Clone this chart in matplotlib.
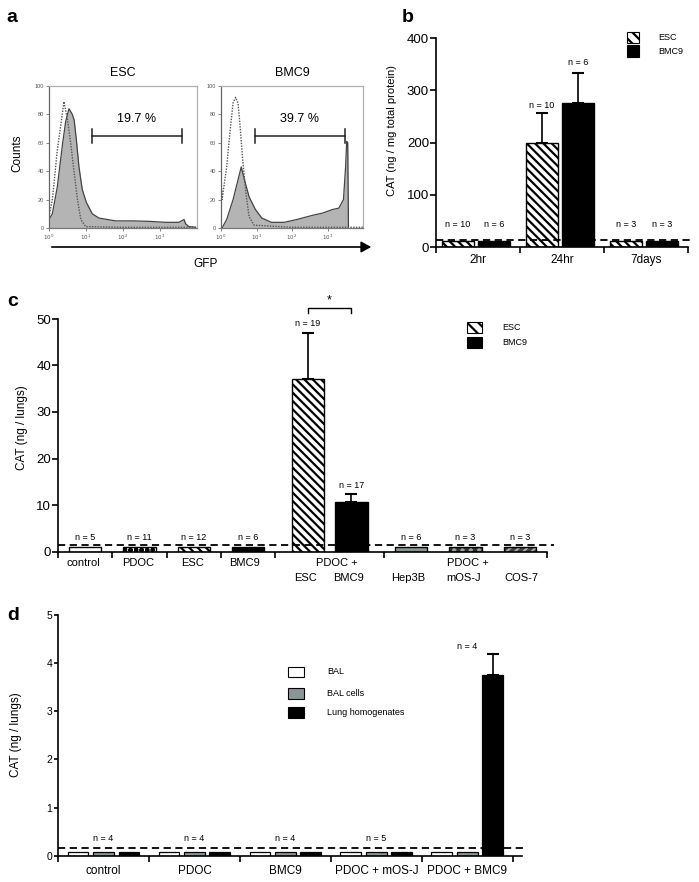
import matplotlib
matplotlib.use('Agg')
import matplotlib.pyplot as plt
from matplotlib.patches import Rectangle
import numpy as np

plt.rcParams['font.family'] = ['Liberation Sans', 'DejaVu Sans']
plt.rcParams['hatch.linewidth'] = 1.6
plt.rcParams['axes.linewidth'] = 1.2

HATCH = '\\\\\\\\'

# ---------------- data ----------------
# panel a : flow histograms (log10 GFP, counts)
esc_ctrl_logx = [0, 0.09, 0.225, 0.315, 0.405, 0.5, 0.585, 0.68, 0.77, 0.86, 0.99, 2.0, 3.0, 4.0]
esc_ctrl_counts = [8, 20, 55, 72, 89, 76, 60, 39, 20, 6, 1, 0.5, 0.5, 0.5]
esc_gfp_logx = [0, 0.09, 0.225, 0.36, 0.45, 0.54, 0.63, 0.68, 0.74, 0.81, 0.9, 1.01, 1.17, 1.35,
                1.8, 2.25, 2.7, 3.15, 3.51, 3.65, 3.69, 3.78, 3.96]
esc_gfp_counts = [6, 10, 29, 58, 75, 84, 80, 76, 62, 43, 27, 18, 10, 7, 5, 5, 4.7, 4, 4, 6, 3, 1, 0.5]
bmc_ctrl_logx = [0, 0.03, 0.16, 0.25, 0.34, 0.41, 0.48, 0.54, 0.61, 0.7, 0.79, 0.93, 2.0, 4.0]
bmc_ctrl_counts = [36, 20, 43, 67, 88, 92, 88, 71, 48, 25, 8, 2, 0.5, 0.5]
bmc_gfp_logx = [0.03, 0.16, 0.34, 0.48, 0.57, 0.66, 0.79, 0.97, 1.15, 1.42, 1.78, 2.14, 2.59,
                2.86, 3.14, 3.32, 3.45, 3.51, 3.54, 3.57, 3.59]
bmc_gfp_counts = [0, 6, 20, 34, 43, 34, 22, 13, 7, 4, 4, 6, 9, 10.5, 13, 14, 20, 43, 61, 60, 0]
esc_gate = [1.16, 3.6]
bmc_gate = [0.95, 3.49]
esc_pct = '19.7 %'
bmc_pct = '39.7 %'

# panel b
b_groups = ['2hr', '24hr', '7days']
b_esc = [12, 199, 12]
b_esc_err = [0, 57, 0]
b_bmc = [12, 275, 12]
b_bmc_err = [0, 58, 0]
b_esc_n = ['n = 10', 'n = 10', 'n = 3']
b_bmc_n = ['n = 6', 'n = 6', 'n = 3']
b_threshold = 13

# panel c
c_cats = ['control', 'PDOC', 'ESC', 'BMC9', 'PDOC + ESC', 'PDOC + BMC9', 'Hep3B', 'PDOC + mOS-J', 'COS-7']
c_vals = [1.0, 1.0, 1.0, 1.0, 37.0, 10.6, 1.0, 1.0, 1.0]
c_err = [0, 0, 0, 0, 10.0, 1.7, 0, 0, 0]
c_n = [5, 11, 12, 6, 19, 17, 6, 3, 3]
c_threshold = 1.4

# panel d
d_groups = ['control', 'PDOC', 'BMC9', 'PDOC + mOS-J', 'PDOC + BMC9']
d_bal = [0.07, 0.07, 0.07, 0.07, 0.07]
d_balcells = [0.07, 0.07, 0.07, 0.07, 0.07]
d_lung = [0.07, 0.07, 0.07, 0.07, 3.76]
d_lung_err = [0, 0, 0, 0, 0.43]
d_n = [4, 4, 4, 5, 4]
d_threshold = 0.15

# ---------------- figure ----------------
W, H = 699, 882
fig = plt.figure(figsize=(W / 100, H / 100), dpi=100)


def rect(x0, y0, x1, y1):
    return [x0 / W, 1 - y1 / H, (x1 - x0) / W, (y1 - y0) / H]


def ft(x, y, s, **kw):
    kw.setdefault('ha', 'center')
    kw.setdefault('va', 'center')
    fig.text(x / W, 1 - y / H, s, **kw)


def fpatch(x0, y0, x1, y1, **kw):
    fig.add_artist(Rectangle((x0 / W, 1 - y1 / H), (x1 - x0) / W, (y1 - y0) / H,
                             transform=fig.transFigure, **kw))


def nlabel(ax, x, top, txt, off_px, fs):
    ax.annotate(txt, xy=(x, top), xytext=(0, off_px), textcoords='offset pixels',
                ha='center', va='center', fontsize=fs, annotation_clip=False)


# ---------- panel a ----------
def hist_panel(box, ctrl_x, ctrl_y, gfp_x, gfp_y, gate, pct, title):
    ax = fig.add_axes(rect(*box))
    gx = 10 ** np.array(gfp_x)
    cx = 10 ** np.array(ctrl_x)
    ax.fill_between(gx, 0, gfp_y, color='#b4b4b4', lw=0)
    ax.plot(gx, gfp_y, color='#444444', lw=0.9)
    ax.plot(cx, ctrl_y, color='#555555', lw=1.0, ls=(0, (1, 1)))
    ax.set_xscale('log')
    ax.set_xlim(1, 10 ** 4)
    ax.set_ylim(0, 100)
    ax.set_xticks([1, 10, 100, 1000])
    ax.set_xticklabels([r'$10^0$', r'$10^1$', r'$10^2$', r'$10^3$'])
    ax.xaxis.set_minor_locator(matplotlib.ticker.NullLocator())
    ax.set_yticks([0, 20, 40, 60, 80, 100])
    ax.tick_params(labelsize=4, length=2, width=0.5, colors='#555555', pad=1.5)
    for s in ax.spines.values():
        s.set_color('#a8b4b4')
        s.set_linewidth(0.9)
    ax.spines['left'].set_color('#666666')
    ax.spines['bottom'].set_color('#777777')
    gy = 65
    ax.plot([10 ** gate[0], 10 ** gate[1]], [gy, gy], color='#222222', lw=1.1)
    for gxv in gate:
        ax.plot([10 ** gxv, 10 ** gxv], [gy - 5, gy + 5], color='#222222', lw=1.1)
    ax.text(10 ** ((gate[0] + gate[1]) / 2), 77, pct, ha='center', va='center', fontsize=9)
    ax.set_title(title, fontsize=9, pad=7)
    return ax


hist_panel((49, 86, 197, 228), esc_ctrl_logx, esc_ctrl_counts, esc_gfp_logx, esc_gfp_counts,
           esc_gate, esc_pct, 'ESC')
hist_panel((221, 86, 363, 228), bmc_ctrl_logx, bmc_ctrl_counts, bmc_gfp_logx, bmc_gfp_counts,
           bmc_gate, bmc_pct, 'BMC9')
ft(17, 153, 'Counts', rotation=90, fontsize=8.5)
ft(206, 264, 'GFP', fontsize=8.5)
fig.add_artist(matplotlib.patches.FancyArrowPatch((49 / W, 1 - 247 / H), (374 / W, 1 - 247 / H),
               transform=fig.transFigure, arrowstyle='-|>,head_length=4,head_width=2.2',
               color='black', lw=1.2, mutation_scale=1.5))

# ---------- panel b ----------
axb = fig.add_axes(rect(436, 38, 688, 247))
xb = np.arange(len(b_groups))
w = 0.38
axb.bar(xb - 0.24, b_esc, w, facecolor='white', edgecolor='black', hatch=HATCH, lw=1.0, zorder=2)
axb.bar(xb + 0.19, b_bmc, w, facecolor='black', edgecolor='black', lw=1.0, zorder=2)
for i in range(len(b_groups)):
    if b_esc_err[i] > 0:
        axb.errorbar(xb[i] - 0.24, b_esc[i], yerr=[[0], [b_esc_err[i]]], fmt='none', ecolor='black',
                     elinewidth=1.2, capsize=4, capthick=1.5, zorder=1)
    if b_bmc_err[i] > 0:
        axb.errorbar(xb[i] + 0.19, b_bmc[i], yerr=[[0], [b_bmc_err[i]]], fmt='none', ecolor='black',
                     elinewidth=1.2, capsize=4, capthick=1.5, zorder=1)
    off_e = 8 if b_esc_err[i] > 0 else 16
    off_b = 11 if b_bmc_err[i] > 0 else 16
    nlabel(axb, xb[i] - 0.24, b_esc[i] + b_esc_err[i], b_esc_n[i], off_e, 6.5)
    nlabel(axb, xb[i] + 0.19, b_bmc[i] + b_bmc_err[i], b_bmc_n[i], off_b, 6.5)
axb.plot([-0.5, 2.55], [b_threshold, b_threshold], color='black', ls=(0, (4, 2.5)), lw=1.3,
         clip_on=False, zorder=3)
axb.set_xlim(-0.5, 2.5)
axb.set_ylim(0, 400)
axb.set_yticks([0, 100, 200, 300, 400])
axb.set_xticks([-0.5, 0.5, 1.5, 2.5])
axb.set_xticklabels([])
axb.tick_params(axis='y', labelsize=9.5, length=4, width=1.2, pad=1)
axb.tick_params(axis='x', length=4, width=1.2)
for i, g in enumerate(b_groups):
    axb.text(xb[i], -0.062, g, transform=axb.get_xaxis_transform(), ha='center', va='center', fontsize=8.5)
axb.spines['top'].set_visible(False)
axb.spines['right'].set_visible(False)
ft(392, 130, 'CAT (ng / mg total protein)', rotation=90, fontsize=8)
fpatch(627, 32, 639, 43, facecolor='white', edgecolor='black', hatch='\\\\\\', lw=0.8)
fpatch(627, 45, 639, 57, facecolor='black', edgecolor='black', lw=0.8)
ft(658, 37.5, 'ESC', fontsize=6.5, ha='left')
ft(658, 51, 'BMC9', fontsize=6.5, ha='left')

# ---------- panel c ----------
axc = fig.add_axes(rect(58, 319, 547, 551.5))
xc = [0.5, 1.5, 2.5, 3.5, 4.6, 5.4, 6.5, 7.5, 8.5]
wc = 0.6
styles = [
    dict(facecolor='white', edgecolor='black'),
    dict(facecolor='white', edgecolor='black', hatch='ooo'),
    dict(facecolor='white', edgecolor='black', hatch=HATCH),
    dict(facecolor='black', edgecolor='black'),
    dict(facecolor='white', edgecolor='black', hatch=HATCH),
    dict(facecolor='black', edgecolor='black'),
    dict(facecolor='#8a9494', edgecolor='black'),
    dict(facecolor='#9aa0a0', edgecolor='#303030', hatch='xxxx'),
    dict(facecolor='#404040', edgecolor='#a8a8a8', hatch='////'),
]
for i in range(len(c_cats)):
    st = dict(styles[i])
    if st['edgecolor'] != 'black':
        axc.bar(xc[i], c_vals[i], wc, lw=0, zorder=2, **st)
        axc.bar(xc[i], c_vals[i], wc, facecolor='none', edgecolor='black', lw=1.0, zorder=2)
    else:
        axc.bar(xc[i], c_vals[i], wc, lw=1.0, zorder=2, **st)
    if c_err[i] > 0:
        axc.errorbar(xc[i], c_vals[i], yerr=[[0], [c_err[i]]], fmt='none', ecolor='black',
                     elinewidth=1.2, capsize=4, capthick=1.5, zorder=1)
    nlabel(axc, xc[i], c_vals[i] + c_err[i], 'n = %d' % c_n[i], 9, 6.5)
axc.plot([0, 9.12], [c_threshold, c_threshold], color='black', ls=(0, (4, 2.5)), lw=1.3,
         clip_on=False, zorder=3)
# significance bracket
by = 52.4
axc.plot([xc[4], xc[4], xc[5], xc[5]], [by - 1.1, by, by, by - 1.1], color='black', lw=1.0, clip_on=False)
axc.text((xc[4] + xc[5]) / 2, 53.9, '*', ha='center', va='center', fontsize=9, clip_on=False)
axc.set_xlim(0, 9)
axc.set_ylim(0, 50)
axc.set_yticks([0, 10, 20, 30, 40, 50])
axc.set_xticks([0, 1, 2, 3, 4, 6, 9])
axc.set_xticklabels([])
axc.tick_params(axis='y', labelsize=9.5, length=4, width=1.2, pad=1)
axc.tick_params(axis='x', length=4, width=1.2)
axc.spines['top'].set_visible(False)
axc.spines['right'].set_visible(False)
tr = axc.get_xaxis_transform()
row1 = -0.049
row2 = -0.114
for x, s in [(0.46, 'control'), (1.47, 'PDOC'), (2.48, 'ESC'), (3.44, 'BMC9'), (5.13, 'PDOC +'), (7.55, 'PDOC +')]:
    axc.text(x, row1, s, transform=tr, ha='center', va='center', fontsize=8)
for x, s in [(4.55, 'ESC'), (5.34, 'BMC9'), (6.45, 'Hep3B'), (7.46, 'mOS-J'), (8.53, 'COS-7')]:
    axc.text(x, row2, s, transform=tr, ha='center', va='center', fontsize=8)
ft(22, 428, 'CAT (ng / lungs)', rotation=90, fontsize=8.5)
fpatch(467, 322, 482, 333, facecolor='white', edgecolor='black', hatch='\\\\\\', lw=0.8)
fpatch(467, 337, 482, 348, facecolor='black', edgecolor='black', lw=0.8)
ft(502, 327.5, 'ESC', fontsize=6.5, ha='left')
ft(502, 342.5, 'BMC9', fontsize=6.5, ha='left')

# ---------- panel d ----------
axd = fig.add_axes(rect(58, 615, 522, 855.7))
xd = np.arange(len(d_groups)) + 0.5
wd = 0.23
axd.bar(xd - 0.28, d_bal, wd, facecolor='white', edgecolor='black', lw=0.9, zorder=2)
axd.bar(xd, d_balcells, wd, facecolor='#8a9696', edgecolor='black', lw=0.9, zorder=2)
axd.bar(xd + 0.28, d_lung, wd, facecolor='black', edgecolor='black', lw=0.9, zorder=2)
for i in range(len(d_groups)):
    if d_lung_err[i] > 0:
        axd.errorbar(xd[i] + 0.28, d_lung[i], yerr=[[0], [d_lung_err[i]]], fmt='none', ecolor='black',
                     elinewidth=1.2, capsize=4, capthick=1.5, zorder=1)
    top = max(d_bal[i], d_balcells[i], d_lung[i] + d_lung_err[i])
    off = 7 if d_lung_err[i] > 0 else 14
    nlabel(axd, xd[i], top, 'n = %d' % d_n[i], off, 6.5)
axd.plot([0, 5.15], [d_threshold, d_threshold], color='black', ls=(0, (4, 2.5)), lw=1.3,
         clip_on=False, zorder=3)
axd.set_xlim(0, 5.1)
axd.set_ylim(0, 5)
axd.set_yticks([0, 1, 2, 3, 4, 5])
axd.set_xticks([0, 1, 2, 3, 4, 5])
axd.set_xticklabels([])
axd.tick_params(axis='y', labelsize=7.5, length=3, width=1.2, pad=1)
axd.tick_params(axis='x', length=4, width=1.2)
axd.spines['top'].set_visible(False)
axd.spines['right'].set_visible(False)
for i, g in enumerate(d_groups):
    axd.text(xd[i], -0.064, g, transform=axd.get_xaxis_transform(), ha='center', va='center', fontsize=8.5)
ft(16, 735, 'CAT (ng / lungs)', rotation=90, fontsize=8.5)
fpatch(288, 667, 304, 677, facecolor='white', edgecolor='black', lw=0.8)
fpatch(288, 688, 304, 699, facecolor='#8a9696', edgecolor='black', lw=0.8)
fpatch(288, 707, 304, 718, facecolor='black', edgecolor='black', lw=0.8)
ft(327, 672, 'BAL', fontsize=6.5, ha='left')
ft(327, 693.5, 'BAL cells', fontsize=6.5, ha='left')
ft(327, 712.5, 'Lung homogenates', fontsize=6.5, ha='left')

# panel letters
for x, y, s in [(12, 17, 'a'), (408, 17, 'b'), (13, 301, 'c'), (13, 616, 'd')]:
    ft(x, y, s, fontsize=14, fontweight='bold')

fig.savefig('out.png', dpi=100)
